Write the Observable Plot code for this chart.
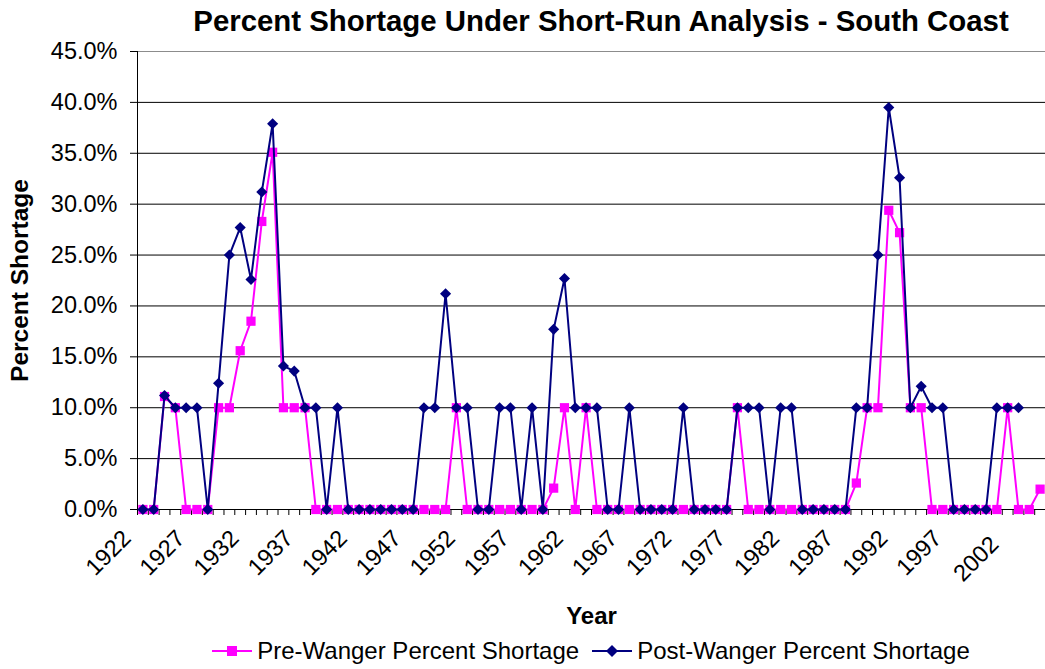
<!DOCTYPE html>
<html>
<head>
<meta charset="utf-8">
<script src="https://cdn.jsdelivr.net/npm/d3@7"></script>
<script src="https://cdn.jsdelivr.net/npm/@observablehq/plot@0.6"></script>
<style>
  html, body { margin: 0; padding: 0; background: #fff; }
  body { width: 1045px; height: 669px; overflow: hidden; font-family: "Liberation Sans", Arial, sans-serif; color: #000; }
  #title { height: 40px; line-height: 42px; padding-left: 157px; text-align: center; font-weight: bold; font-size: 29.4px; white-space: nowrap; }
  #chart svg { display: block; }
  #legend { height: 37px; padding-left: 137px; display: flex; justify-content: center; align-items: center; font-size: 24px; white-space: nowrap; }
  #legend .item { display: flex; align-items: center; }
  #legend .lab { margin-left: 5px; }
</style>
</head>
<body>
<div id="title">Percent Shortage Under Short-Run Analysis - South Coast</div>
<div id="chart"></div>
<div id="legend"></div>
<script>
// ---- data ----
const years = d3.range(1922, 2006); // categories 1922 … 2005
const preWanger = [
  0, 0, 11.1, 10, 0, 0, 0, 10,                  // 1922-1929
  10, 15.6, 18.5, 28.3, 35.1, 10, 10, 10, 0, 0, // 1930-1939
  0, 0, 0, 0, 0, 0, 0, 0, 0, 0,                 // 1940-1949
  0, 10, 0, 0, 0, 0, 0, 0, 0, 0,                // 1950-1959
  2.1, 10, 0, 10, 0, 0, 0, 0, 0, 0,             // 1960-1969
  0, 0, 0, 0, 0, 0, 0, 10, 0, 0,                // 1970-1979
  0, 0, 0, 0, 0, 0, 0, 0, 2.6, 10,              // 1980-1989
  10, 29.4, 27.2, 10, 10, 0, 0, 0, 0, 0,        // 1990-1999
  0, 0, 10, 0, 0, 2.0                           // 2000-2005
];
const postWanger = [
  0, 0, 11.2, 10, 10, 10, 0, 12.4,                        // 1922-1929
  25.0, 27.7, 22.6, 31.2, 37.9, 14.1, 13.6, 10, 10, 0,    // 1930-1939
  10, 0, 0, 0, 0, 0, 0, 0, 10, 10,                        // 1940-1949
  21.2, 10, 10, 0, 0, 10, 10, 0, 10, 0,                   // 1950-1959
  17.7, 22.7, 10, 10, 10, 0, 0, 10, 0, 0,                 // 1960-1969
  0, 0, 10, 0, 0, 0, 0, 10, 10, 10,                       // 1970-1979
  0, 10, 10, 0, 0, 0, 0, 0, 10, 10,                       // 1980-1989
  25.0, 39.5, 32.6, 10, 12.1, 10, 10, 0, 0, 0,            // 1990-1999
  0, 10, 10, 10, null, null                               // 2000-2005
];
const labelYears = [1922, 1927, 1932, 1937, 1942, 1947, 1952, 1957, 1962, 1967, 1972, 1977, 1982, 1987, 1992, 1997, 2002];
const yTicks = [0, 5, 10, 15, 20, 25, 30, 35, 40, 45];
const gridValues = [5, 10, 15, 20, 25, 30, 35, 40];
const seriesNames = ["Pre-Wanger Percent Shortage", "Post-Wanger Percent Shortage"];
const seriesColors = ["#FF00FF", "#000080"];

const rows = years.map((year, i) => ({year, pre: preWanger[i], post: postWanger[i]}));
const postRows = rows.filter(d => d.post != null);

// ---- layout ----
const W = 1045, H = 592;
const mL = 137, mR = 0, mT = 11, mB = 123;
const step = (W - mL - mR) / years.length;
const xLabelStyle = {tickSize: 0, tickRotate: -45, tickFormat: d => String(d), fontSize: 23.5, label: null};

const chart = Plot.plot({
  width: W, height: H,
  marginLeft: mL, marginRight: mR, marginTop: mT, marginBottom: mB,
  style: {fontFamily: "'Liberation Sans', Arial, sans-serif", fontSize: "23.5px", color: "#000", background: "#fff", overflow: "visible"},
  x: {type: "point", domain: years, padding: 0.5, label: null},
  y: {domain: [0, 45], label: null},
  marks: [
    Plot.ruleY(gridValues, {stroke: "#000", strokeWidth: 1}),
    Plot.ruleY([45], {stroke: "#8c8c8c", strokeWidth: 1}),
    Plot.ruleY([0], {stroke: "#000", strokeWidth: 1}),
    Plot.ruleX([years[0]], {y1: 0, y2: 45, dx: -step / 2, stroke: "#000", strokeWidth: 1}),
    Plot.axisY({ticks: yTicks, tickSize: 7, tickPadding: 13, tickFormat: d => d.toFixed(1) + "%", fontSize: 23.5, label: null}),
    Plot.axisX({ticks: years, tickSize: 6, tickFormat: () => "", dx: -step / 2, label: null}),
    Plot.axisX({ticks: [years[years.length - 1]], tickSize: 6, tickFormat: () => "", dx: step / 2, label: null}),
    Plot.axisX({...xLabelStyle, ticks: labelYears.slice(0, -1), tickPadding: 25, dx: -16}),
    Plot.axisX({...xLabelStyle, ticks: labelYears.slice(-1), tickPadding: 31, dx: -13}),
    Plot.text(["Year"], {text: d => d, frameAnchor: "bottom", lineAnchor: "middle", dy: 107, fontSize: 24, fontWeight: "bold"}),
    Plot.text(["Percent Shortage"], {text: d => d, frameAnchor: "left", textAnchor: "middle", lineAnchor: "middle", dx: -117, rotate: -90, fontSize: 24.5, fontWeight: "bold"}),
    Plot.line(rows, {x: "year", y: "pre", stroke: seriesColors[0], strokeWidth: 2}),
    Plot.dot(rows, {x: "year", y: "pre", symbol: "square", r: 5.2, fill: seriesColors[0]}),
    Plot.line(postRows, {x: "year", y: "post", stroke: seriesColors[1], strokeWidth: 2}),
    Plot.dot(postRows, {x: "year", y: "post", symbol: "diamond2", r: 5, fill: seriesColors[1]})
  ]
});
document.getElementById("chart").appendChild(chart);

// ---- legend ----
const legend = document.getElementById("legend");
seriesNames.forEach((name, i) => {
  const item = document.createElement("div");
  item.className = "item";
  if (i > 0) item.style.marginLeft = "13px";
  const sym = i === 0
    ? `<rect x="15" y="6" width="10" height="10" fill="${seriesColors[0]}"/>`
    : `<path d="M20,5 L26,11 L20,17 L14,11 Z" fill="${seriesColors[1]}"/>`;
  item.innerHTML = `<svg width="40" height="22"><line x1="0" y1="11" x2="40" y2="11" stroke="${seriesColors[i]}" stroke-width="2"/>${sym}</svg><span class="lab">${name}</span>`;
  legend.appendChild(item);
});
</script>
</body>
</html>
